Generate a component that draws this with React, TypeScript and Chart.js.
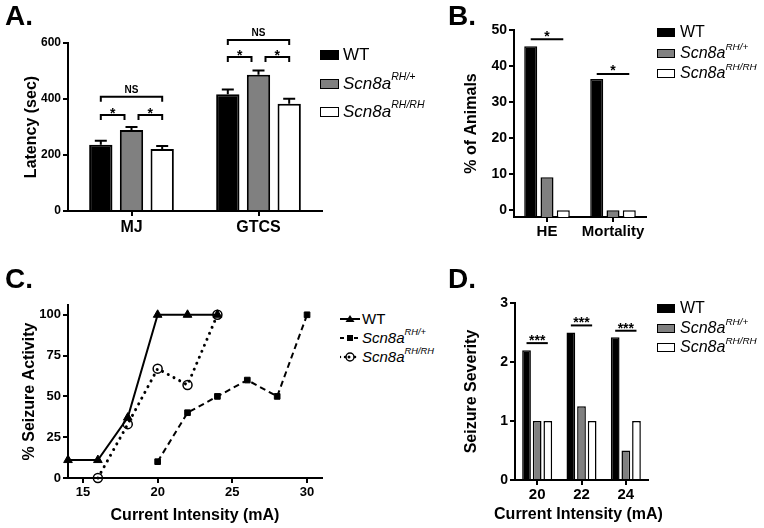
import React, { useEffect, useRef } from "react";
import { Chart, registerables } from "chart.js";
Chart.register(...registerables);

const FONT = "'Liberation Sans', Arial, Helvetica, sans-serif";

// ---------- Panel A: latency ----------
const latencyCategories = ["MJ", "GTCS"];
const latencyWT = [237, 417];
const latencyHet = [289, 487];
const latencyHom = [221, 383];
const latencyWTErr = [14, 17];
const latencyHetErr = [11, 15];
const latencyHomErr = [11, 18];
const latencyTicks = [0, 200, 400, 600];
const latencySigCat = [0, 0, 0, 1, 1, 1];
const latencySigFrom = [0, 0, 1, 0, 0, 1];
const latencySigTo = [2, 1, 2, 2, 1, 2];
const latencySigValue = [408, 343, 343, 611, 550, 550];
const latencySigLabel = ["NS", "*", "*", "NS", "*", "*"];

// ---------- Panel B: outcomes ----------
const outcomeCategories = ["HE", "Mortality"];
const outcomeWT = [45.5, 36.4];
const outcomeHet = [9.1, 0];
const outcomeHom = [0, 0];
const outcomeTicks = [0, 10, 20, 30, 40, 50];
const outcomeSigCat = [0, 1];
const outcomeSigValue = [47.4, 37.8];
const outcomeSigLabel = ["*", "*"];

// ---------- Panel C: seizure activity ----------
const wtCurrent = [14, 16, 18, 20, 22, 24];
const wtActivity = [11, 11, 37, 100, 100, 100];
const hetCurrent = [20, 22, 24, 26, 28, 30];
const hetActivity = [10, 40, 50, 60, 50, 100];
const homCurrent = [16, 18, 20, 22, 24];
const homActivity = [0, 33, 67, 57, 100];
const activityTicks = [0, 25, 50, 75, 100];
const currentTicks = [15, 20, 25, 30];

// ---------- Panel D: severity ----------
const severityCategories = ["20", "22", "24"];
const severityWT = [2.2, 2.5, 2.42];
const severityHet = [1, 1.25, 0.5];
const severityHom = [1, 1, 1];
const severityTicks = [0, 1, 2, 3];
const severitySigCat = [0, 1, 2];
const severitySigValue = [2.32, 2.62, 2.53];
const severitySigLabel = ["***", "***", "***"];

// legend
const seriesMain = ["WT", "Scn8a", "Scn8a"];
const seriesSup = ["", "RH/+", "RH/RH"];
const seriesFill = ["#000000", "#808080", "#ffffff"];

function yScale(o: any) {
  return {
    type: "linear",
    min: o.min,
    max: o.max,
    afterBuildTicks: (s: any) => {
      s.ticks = o.ticks.map((v: number) => ({ value: v }));
    },
    afterFit: (s: any) => {
      s.width = o.width;
    },
    grid: { display: true, drawOnChartArea: false, drawTicks: true, tickLength: 5, color: "#000", lineWidth: 2 },
    border: { display: true, color: "#000", width: 2 },
    ticks: { color: "#000", padding: 2, font: { family: FONT, size: o.tickSize, weight: "bold" } },
    title: {
      display: true,
      text: o.title,
      color: "#000",
      font: { family: FONT, size: o.titleSize, weight: "bold" },
      padding: { top: o.titlePad, bottom: 0 },
    },
  };
}

function xCatScale(o: any) {
  return {
    type: "category",
    offset: true,
    afterFit: (s: any) => {
      s.height = o.height;
    },
    grid: { display: true, offset: false, drawOnChartArea: false, drawTicks: true, tickLength: 5, color: "#000", lineWidth: 2 },
    border: { display: true, color: "#000", width: 2 },
    ticks: {
      color: "#000",
      padding: o.tickPad,
      autoSkip: false,
      maxRotation: 0,
      minRotation: 0,
      font: { family: FONT, size: o.tickSize, weight: "bold" },
    },
    title: { display: false },
  };
}

function xTitlePlugin(text: string, y: number, shift: number) {
  return {
    id: "xTitleFree",
    afterDraw(chart: any) {
      const ctx = chart.ctx;
      const a = chart.chartArea;
      ctx.save();
      ctx.fillStyle = "#000";
      ctx.font = `bold 16px ${FONT}`;
      ctx.textAlign = "center";
      ctx.textBaseline = "middle";
      ctx.fillText(text, (a.left + a.right) / 2 + shift, y);
      ctx.restore();
    },
  };
}

function sigPlugin(id: string, s: any) {
  return {
    id,
    afterDatasetsDraw(chart: any) {
      const ctx = chart.ctx;
      const y = chart.scales.y;
      ctx.save();
      ctx.strokeStyle = "#000";
      ctx.fillStyle = "#000";
      ctx.lineWidth = s.lineWidth;
      s.cat.forEach((cat: number, i: number) => {
        const from = s.from ? s.from[i] : 0;
        const to = s.to ? s.to[i] : 2;
        let x1 = chart.getDatasetMeta(from).data[cat].x;
        let x2 = chart.getDatasetMeta(to).data[cat].x;
        if (to - from === 1) {
          if (from === 0) x2 -= s.inset;
          else x1 += s.inset;
        }
        const py = y.getPixelForValue(s.value[i]);
        ctx.beginPath();
        if (s.bracket) {
          ctx.moveTo(x1, py + 5);
          ctx.lineTo(x1, py);
          ctx.lineTo(x2, py);
          ctx.lineTo(x2, py + 5);
        } else {
          ctx.moveTo(x1, py);
          ctx.lineTo(x2, py);
        }
        ctx.stroke();
        const label = s.label[i];
        const isNS = label === "NS";
        ctx.font = `bold ${isNS ? s.nsSize : s.starSize}px ${FONT}`;
        ctx.textAlign = "center";
        ctx.textBaseline = "alphabetic";
        ctx.fillText(label, (x1 + x2) / 2, py + (isNS ? s.nsOffset : s.starOffset));
      });
      ctx.restore();
    },
  };
}

function errPlugin(errs: number[][]) {
  return {
    id: "errbars",
    afterDatasetsDraw(chart: any) {
      const ctx = chart.ctx;
      const y = chart.scales.y;
      ctx.save();
      ctx.strokeStyle = "#000";
      ctx.lineWidth = 2;
      errs.forEach((arr, di) => {
        const meta = chart.getDatasetMeta(di);
        meta.data.forEach((el: any, j: number) => {
          const v = chart.data.datasets[di].data[j];
          const top = y.getPixelForValue(v + arr[j]);
          ctx.beginPath();
          ctx.moveTo(el.x, el.y);
          ctx.lineTo(el.x, top);
          ctx.moveTo(el.x - 6, top);
          ctx.lineTo(el.x + 6, top);
          ctx.stroke();
        });
      });
      ctx.restore();
    },
  };
}

function barDatasets(values: number[][], bw: number, base?: number) {
  return values.map((data, i) => {
    const ds: any = {
      label: seriesMain[i] + seriesSup[i],
      data,
      backgroundColor: seriesFill[i],
      borderColor: "#000",
      borderWidth: bw,
      borderSkipped: "start",
    };
    if (base !== undefined) ds.base = base;
    return ds;
  });
}

function configA() {
  return {
    type: "bar",
    data: {
      labels: latencyCategories,
      datasets: barDatasets([latencyWT, latencyHet, latencyHom], 2).map((d: any) => ({
        ...d,
        categoryPercentage: 0.725,
        barPercentage: 0.76,
      })),
    },
    options: {
      responsive: false,
      animation: false,
      layout: { padding: { top: 43, right: 18, left: 0, bottom: 0 } },
      plugins: { legend: { display: false }, tooltip: { enabled: false } },
      scales: {
        x: xCatScale({ height: 39, tickSize: 16, tickPad: 2 }),
        y: yScale({ min: 0, max: 600, ticks: latencyTicks, width: 68, tickSize: 12, title: "Latency (sec)", titleSize: 16, titlePad: 22 }),
      },
    },
    plugins: [
      errPlugin([latencyWTErr, latencyHetErr, latencyHomErr]),
      sigPlugin("sigA", {
        cat: latencySigCat,
        from: latencySigFrom,
        to: latencySigTo,
        value: latencySigValue,
        label: latencySigLabel,
        bracket: true,
        lineWidth: 2,
        inset: 7,
        nsSize: 10,
        starSize: 14,
        nsOffset: -4,
        starOffset: 3,
      }),
    ],
  };
}

function configB() {
  return {
    type: "bar",
    data: {
      labels: outcomeCategories,
      datasets: barDatasets([outcomeWT, outcomeHet, outcomeHom], 1.5, -1.9).map((d: any) => ({
        ...d,
        categoryPercentage: 0.74,
        barPercentage: 0.8,
      })),
    },
    options: {
      responsive: false,
      animation: false,
      layout: { padding: { top: 30, right: 14, left: 0, bottom: 0 } },
      plugins: { legend: { display: false }, tooltip: { enabled: false } },
      scales: {
        x: xCatScale({ height: 33, tickSize: 15, tickPad: 1 }),
        y: yScale({ min: -1.9, max: 50, ticks: outcomeTicks, width: 84, tickSize: 14, title: "% of Animals", titleSize: 16, titlePad: 32 }),
      },
    },
    plugins: [
      sigPlugin("sigB", {
        cat: outcomeSigCat,
        value: outcomeSigValue,
        label: outcomeSigLabel,
        bracket: false,
        lineWidth: 2,
        inset: 0,
        nsSize: 10,
        starSize: 14,
        nsOffset: -4,
        starOffset: 1.5,
      }),
    ],
  };
}

function pts(xs: number[], ys: number[]) {
  return xs.map((x, i) => ({ x, y: ys[i] }));
}

function configC() {
  return {
    type: "line",
    data: {
      datasets: [
        {
          label: "WT",
          data: pts(wtCurrent, wtActivity),
          borderColor: "#000",
          borderWidth: 2,
          pointStyle: "triangle",
          pointRadius: 5,
          pointBackgroundColor: "#000",
          pointBorderColor: "#000",
          pointBorderWidth: 1,
          clip: false,
          order: 0,
        },
        {
          label: "Scn8aRH/+",
          data: pts(hetCurrent, hetActivity),
          borderColor: "#000",
          borderWidth: 2,
          borderDash: [6, 4],
          pointStyle: "rect",
          pointRadius: 4,
          pointBackgroundColor: "#000",
          pointBorderColor: "#000",
          pointBorderWidth: 1,
          clip: false,
          order: 1,
        },
        {
          label: "Scn8aRH/RH",
          data: pts(homCurrent, homActivity),
          borderColor: "#000",
          borderWidth: 3,
          borderDash: [0.01, 6.5],
          borderCapStyle: "round",
          pointStyle: "circle",
          pointRadius: 4.5,
          pointBackgroundColor: "rgba(255,255,255,0)",
          pointBorderColor: "#000",
          pointBorderWidth: 1.5,
          clip: false,
          order: 2,
        },
      ],
    },
    options: {
      responsive: false,
      animation: false,
      layout: { padding: { top: 45, right: 18, left: 0, bottom: 0 } },
      plugins: { legend: { display: false }, tooltip: { enabled: false } },
      scales: {
        x: {
          type: "linear",
          min: 14,
          max: 31,
          afterBuildTicks: (s: any) => {
            s.ticks = currentTicks.map((v) => ({ value: v }));
          },
          afterFit: (s: any) => {
            s.height = 50;
          },
          grid: { display: true, drawOnChartArea: false, drawTicks: true, tickLength: 5, color: "#000", lineWidth: 2 },
          border: { display: true, color: "#000", width: 2 },
          ticks: { color: "#000", padding: 2, font: { family: FONT, size: 13, weight: "bold" } },
          title: {
            display: true,
            text: "Current Intensity (mA)",
            color: "#000",
            font: { family: FONT, size: 16, weight: "bold" },
            padding: { top: 0, bottom: 3 },
          },
        },
        y: yScale({ min: 0, max: 106, ticks: activityTicks, width: 68, tickSize: 13, title: "% Seizure Activity", titleSize: 16, titlePad: 20 }),
      },
    },
  };
}

function configD() {
  return {
    type: "bar",
    data: {
      labels: severityCategories,
      datasets: barDatasets([severityWT, severityHet, severityHom], 1.5).map((d: any) => ({
        ...d,
        categoryPercentage: 0.72,
        barPercentage: 0.82,
      })),
    },
    options: {
      responsive: false,
      animation: false,
      layout: { padding: { top: 43, right: 116, left: 0, bottom: 0 } },
      plugins: { legend: { display: false }, tooltip: { enabled: false } },
      scales: {
        x: xCatScale({ height: 48, tickSize: 15, tickPad: 1 }),
        y: yScale({ min: 0, max: 3, ticks: severityTicks, width: 75, tickSize: 14, title: "Seizure Severity", titleSize: 16, titlePad: 22 }),
      },
    },
    plugins: [
      xTitlePlugin("Current Intensity (mA)", 255, -3),
      sigPlugin("sigD", {
        cat: severitySigCat,
        value: severitySigValue,
        label: severitySigLabel,
        bracket: false,
        lineWidth: 2,
        inset: 0,
        nsSize: 10,
        starSize: 14,
        nsOffset: -4,
        starOffset: 2,
      }),
    ],
  };
}

function ChartBox(props: { left: number; top: number; width: number; height: number; make: () => any }) {
  const ref = useRef<HTMLCanvasElement>(null);
  useEffect(() => {
    const chart = new Chart(ref.current as HTMLCanvasElement, props.make());
    return () => chart.destroy();
  }, []);
  return (
    <div style={{ position: "absolute", left: props.left, top: props.top, width: props.width, height: props.height }}>
      <canvas ref={ref} width={props.width} height={props.height} style={{ display: "block" }} />
    </div>
  );
}

function LegendText(props: { i: number; size: number }) {
  const { i, size } = props;
  if (!seriesSup[i]) return <span>{seriesMain[i]}</span>;
  return (
    <span>
      <i>{seriesMain[i]}</i>
      <i style={{ fontSize: size * 0.62, position: "relative", top: -size * 0.52 }}>{seriesSup[i]}</i>
    </span>
  );
}

function BarLegend(props: { left: number; textLeft: number; centers: number[]; size: number; boxW: number; boxH: number }) {
  const { left, textLeft, centers, size, boxW, boxH } = props;
  return (
    <>
      {centers.map((c, i) => (
        <React.Fragment key={i}>
          <div
            style={{
              position: "absolute",
              left,
              top: c - boxH / 2,
              width: boxW,
              height: boxH,
              boxSizing: "border-box",
              border: "1.5px solid #000",
              background: seriesFill[i],
            }}
          />
          <div
            style={{
              position: "absolute",
              left: textLeft,
              top: c - size * 0.6,
              height: size * 1.2,
              lineHeight: `${size * 1.2}px`,
              fontSize: size,
              fontFamily: FONT,
              whiteSpace: "nowrap",
              color: "#000",
            }}
          >
            <LegendText i={i} size={size} />
          </div>
        </React.Fragment>
      ))}
    </>
  );
}

function LineSample(props: { i: number }) {
  const { i } = props;
  const dash = i === 0 ? undefined : i === 1 ? "4 3" : "0.01 5";
  return (
    <svg width={20} height={12} style={{ display: "block" }}>
      <line x1={0} y1={6} x2={20} y2={6} stroke="#000" strokeWidth={i === 2 ? 2.5 : 2} strokeDasharray={dash} strokeLinecap={i === 2 ? "round" : "butt"} />
      {i === 0 && <polygon points="10,2 14.5,9 5.5,9" fill="#000" />}
      {i === 1 && <rect x={7} y={3} width={6} height={6} fill="#000" />}
      {i === 2 && <circle cx={10} cy={6} r={4} fill="#fff" stroke="#000" strokeWidth={1.5} />}
      {i === 2 && <circle cx={9} cy={6} r={1.5} fill="#000" />}
    </svg>
  );
}

function LineLegend(props: { left: number; textLeft: number; centers: number[]; size: number }) {
  const { left, textLeft, centers, size } = props;
  return (
    <>
      {centers.map((c, i) => (
        <React.Fragment key={i}>
          <div style={{ position: "absolute", left, top: c - 6 }}>
            <LineSample i={i} />
          </div>
          <div
            style={{
              position: "absolute",
              left: textLeft,
              top: c - size * 0.6,
              height: size * 1.2,
              lineHeight: `${size * 1.2}px`,
              fontSize: size,
              fontFamily: FONT,
              whiteSpace: "nowrap",
              color: "#000",
            }}
          >
            <LegendText i={i} size={size} />
          </div>
        </React.Fragment>
      ))}
    </>
  );
}

function PanelLetter(props: { text: string; left: number; top: number }) {
  return (
    <div
      style={{
        position: "absolute",
        left: props.left,
        top: props.top,
        fontFamily: FONT,
        fontWeight: "bold",
        fontSize: 28,
        lineHeight: "28px",
        color: "#000",
      }}
    >
      {props.text}
    </div>
  );
}

export default function App() {
  return (
    <div style={{ position: "absolute", left: 0, top: 0, width: 764, height: 528, background: "#fff", overflow: "hidden" }}>
      <ChartBox left={0} top={0} width={340} height={250} make={configA} />
      <ChartBox left={430} top={0} width={230} height={250} make={configB} />
      <ChartBox left={0} top={260} width={340} height={268} make={configC} />
      <ChartBox left={440} top={260} width={324} height={268} make={configD} />
      <BarLegend left={320} textLeft={343} centers={[55, 84, 112]} size={17} boxW={19} boxH={10} />
      <BarLegend left={657} textLeft={680} centers={[32, 53, 73]} size={16} boxW={18} boxH={9} />
      <LineLegend left={340} textLeft={362} centers={[319, 338, 357]} size={15} />
      <BarLegend left={657} textLeft={680} centers={[308, 328, 347]} size={16} boxW={18} boxH={9} />
      <PanelLetter text="A." left={5} top={2} />
      <PanelLetter text="B." left={448} top={2} />
      <PanelLetter text="C." left={5} top={265} />
      <PanelLetter text="D." left={448} top={265} />
    </div>
  );
}
